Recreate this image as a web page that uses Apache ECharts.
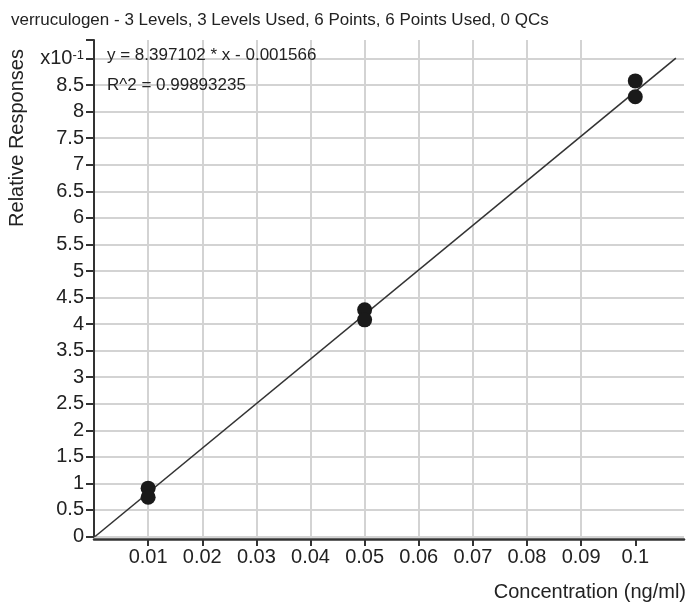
<!DOCTYPE html>
<html>
<head>
<meta charset="utf-8">
<script src="https://cdn.jsdelivr.net/npm/echarts@6/dist/echarts.min.js"></script>
<style>
  html, body { margin: 0; padding: 0; background: #fff; }
  #chart { width: 689px; height: 604px; }
</style>
</head>
<body>
<div id="chart"></div>
<script>
// calibration points (concentration, relative response)
const concentrations = [0.01, 0.01, 0.05, 0.05, 0.1, 0.1];
const responses = [0.091, 0.074, 0.427, 0.408, 0.858, 0.828];

// fitted line end points
const fitX = [0.0002, 0.1075];
const fitY = [0, 0.901];

const titleText = 'verruculogen - 3 Levels, 3 Levels Used, 6 Points, 6 Points Used, 0 QCs';
const equationLines = ['y = 8.397102 * x - 0.001566', 'R^2 = 0.99893235'];
const xTickValues = [0.01, 0.02, 0.03, 0.04, 0.05, 0.06, 0.07, 0.08, 0.09, 0.1];

const FONT = "'Liberation Sans', Arial, sans-serif";
const chart = echarts.init(document.getElementById('chart'));

chart.setOption({
  animation: false,
  backgroundColor: '#fff',
  textStyle: { fontFamily: FONT },
  grid: { left: 94, right: 5, top: 40, bottom: 67.5, containLabel: false },
  xAxis: {
    type: 'value',
    min: 0,
    max: 0.109,
    interval: 0.01,
    offset: 2.5,
    axisLine: { show: true, onZero: false, lineStyle: { color: '#333', width: 2.5 } },
    axisTick: { show: true, length: 7, customValues: xTickValues, lineStyle: { color: '#333', width: 2 } },
    axisLabel: {
      color: '#222',
      fontSize: 20,
      margin: 8,
      customValues: xTickValues,
      formatter: function (v) {
        if (v < 0.005 || v > 0.1005) return '';
        return String(Math.round(v * 100) / 100);
      }
    },
    splitLine: { show: true, showMaxLine: false, lineStyle: { color: '#d3d3d3', width: 2 } }
  },
  yAxis: {
    type: 'value',
    min: 0,
    max: 0.935,
    interval: 0.05,
    axisLine: { show: true, lineStyle: { color: '#333', width: 2 } },
    axisTick: { show: true, length: 8, lineStyle: { color: '#333', width: 2 } },
    axisLabel: {
      color: '#222',
      fontSize: 20,
      margin: 10,
      formatter: function (v) {
        if (v > 0.9005) return '';
        if (Math.abs(v - 0.9) < 1e-6) return '{a|x10}{s|-1}';
        return String(Math.round(v * 200) / 20);
      },
      rich: {
        a: { fontSize: 20, color: '#222', fontFamily: FONT },
        s: { fontSize: 13, color: '#222', fontFamily: FONT, verticalAlign: 'top', padding: [0, 0, 6, 0] }
      }
    },
    splitLine: { show: true, showMaxLine: false, lineStyle: { color: '#d3d3d3', width: 2 } }
  },
  graphic: [
    {
      type: 'text', left: 11, top: 12, z: 100,
      style: { text: titleText, font: '17px ' + FONT, fill: '#222' }
    },
    {
      type: 'text', x: 107, y: 55, z: 100,
      style: { text: equationLines[0], font: '17px ' + FONT, fill: '#222', verticalAlign: 'middle' }
    },
    {
      type: 'text', x: 107, y: 85, z: 100,
      style: { text: equationLines[1], font: '17px ' + FONT, fill: '#222', verticalAlign: 'middle' }
    },
    {
      type: 'text', x: 17, y: 138, rotation: Math.PI / 2, z: 100,
      style: { text: 'Relative Responses', font: '20px ' + FONT, fill: '#222', align: 'center', verticalAlign: 'middle' }
    },
    {
      type: 'text', x: 686, y: 592, z: 100,
      style: { text: 'Concentration (ng/ml)', font: '20px ' + FONT, fill: '#222', align: 'right', verticalAlign: 'middle' }
    }
  ],
  series: [
    {
      type: 'line',
      data: fitX.map((x, i) => [x, fitY[i]]),
      symbol: 'none',
      lineStyle: { color: '#333', width: 1.6 },
      z: 3
    },
    {
      type: 'scatter',
      data: concentrations.map((x, i) => [x, responses[i]]),
      symbol: 'circle',
      symbolSize: 15,
      itemStyle: { color: '#1a1a1a', opacity: 1 },
      z: 4
    }
  ]
});
</script>
</body>
</html>
